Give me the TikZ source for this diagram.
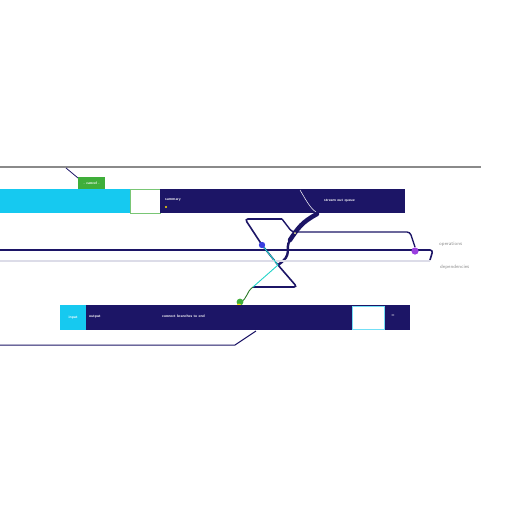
\documentclass[tikz,border=0pt]{standalone}
\usepackage{amsmath}
\usepackage{color,xcolor}
\usetikzlibrary{positioning}

\definecolor{navybar}{HTML}{1C1566}
\definecolor{cyanbar}{HTML}{16C9F0}
\definecolor{greenbox}{HTML}{3FAE3A}
\definecolor{violetdot}{HTML}{9B3FE0}
\definecolor{bluedot}{HTML}{3A3EE0}
\definecolor{railgray}{HTML}{8A8A8A}
\definecolor{palerail}{HTML}{DCDCE8}
\definecolor{tealwire}{HTML}{22D3C8}

\begin{document}
\begin{tikzpicture}[x=1pt,y=-1pt,
        tiny/.style={font=\fontsize{3.8}{4}\selectfont\sffamily\bfseries, text=white, inner sep=0pt},
        sidelabel/.style={font=\fontsize{5}{6}\selectfont\sffamily, text=gray!90, inner sep=0pt},
        bar/.style={draw=none, inner sep=0pt, anchor=north west}]
                \useasboundingbox (0,0) rectangle (512,512);

                \draw[railgray, line width=1.2pt] (0,167) -- (481,167);
                \draw[navybar, line width=0.8pt] (66,168) -- (78,178);

                \node[bar, fill=greenbox, minimum width=27pt, minimum height=12pt] (cancelbox) at (78,177) {};
                \node[tiny] at (cancelbox.center) {- cancel -};

                \node[bar, fill=cyanbar, minimum width=130pt, minimum height=24pt] (topcyan) at (0,189) {};
                \node[bar, fill=white, draw=greenbox!70, line width=0.6pt, minimum width=30pt, minimum height=24pt] (topwhite) at (130,189) {};
                \node[bar, fill=navybar, minimum width=245pt, minimum height=24pt] (topnavy) at (160,189) {};
                \node[tiny, anchor=west] (summary) at (165,200) {summary};
                \fill[yellow!80!orange] (166,207) circle (1.2pt);
                \node[tiny, anchor=west] (queue) at (324,201) {stream out queue};
                \draw[white, line width=0.5pt] (300,190) .. controls (306,200) and (310,208) .. (316,212);

                \draw[navybar, line width=1.6pt, rounded corners=3pt] (282,219) -- (245,219) -- (262,245) -- (278,265) -- (297,287) -- (253,287);
                \draw[navybar, line width=1.4pt, rounded corners=3pt] (282,219) -- (292,232) -- (410,232) -- (415,247);
                \draw[navybar, line width=4.5pt, line cap=round] (317,214) .. controls (302,222) and (298,228) .. (290,240);
                \draw[navybar, line width=2.4pt] (290,240) .. controls (284,250) and (294,254) .. (278,265);

                \draw[navybar, line width=1.6pt, rounded corners=3pt] (0,250) -- (433,250) -- (430,260);
                \draw[palerail, line width=1.2pt] (0,261) -- (430,261);

                \draw[tealwire, line width=0.9pt] (262,245) -- (278,265) -- (253,287);
                \draw[greenbox!70!black, line width=0.9pt] (253,287) .. controls (246,292) and (248,298) .. (240,303);

                \coordinate (hub) at (262,245);
                \coordinate (tail) at (415,251);
                \coordinate (drop) at (239,306);
                \fill[bluedot] (hub) circle (3.2pt);
                \fill[violetdot] (tail) circle (3.6pt);
                \fill[greenbox] (240,302) circle (3.4pt);
                \fill[yellow!85!orange] (drop) circle (2.4pt);
                \fill[yellow!40] (295,233) circle (1pt);

                \node[sidelabel, anchor=west] (ops) at (439,244) {operations};
                \node[sidelabel, anchor=west] (deps) at (440,267) {dependencies};

                \node[bar, fill=cyanbar, minimum width=26pt, minimum height=25pt] (lowcyan) at (60,305) {};
                \node[bar, fill=navybar, minimum width=324pt, minimum height=25pt] (lownavy) at (86,305) {};
                \node[tiny] at (lowcyan.center) {input};
                \node[tiny, anchor=west] (outlabel) at (89,317) {output};
                \node[tiny, anchor=west] (branch) at (162,316) {connect branches to end};
                \node[bar, fill=white, draw=cyanbar!60, line width=0.5pt, minimum width=32pt, minimum height=23pt] (lowwhite) at (352,306) {};
                \node[tiny] (eqmark) at (393,316) {=};

                \draw[navybar, line width=1pt] (0,345) -- (235,345) -- (256,331);
            \end{tikzpicture}
\end{document}
